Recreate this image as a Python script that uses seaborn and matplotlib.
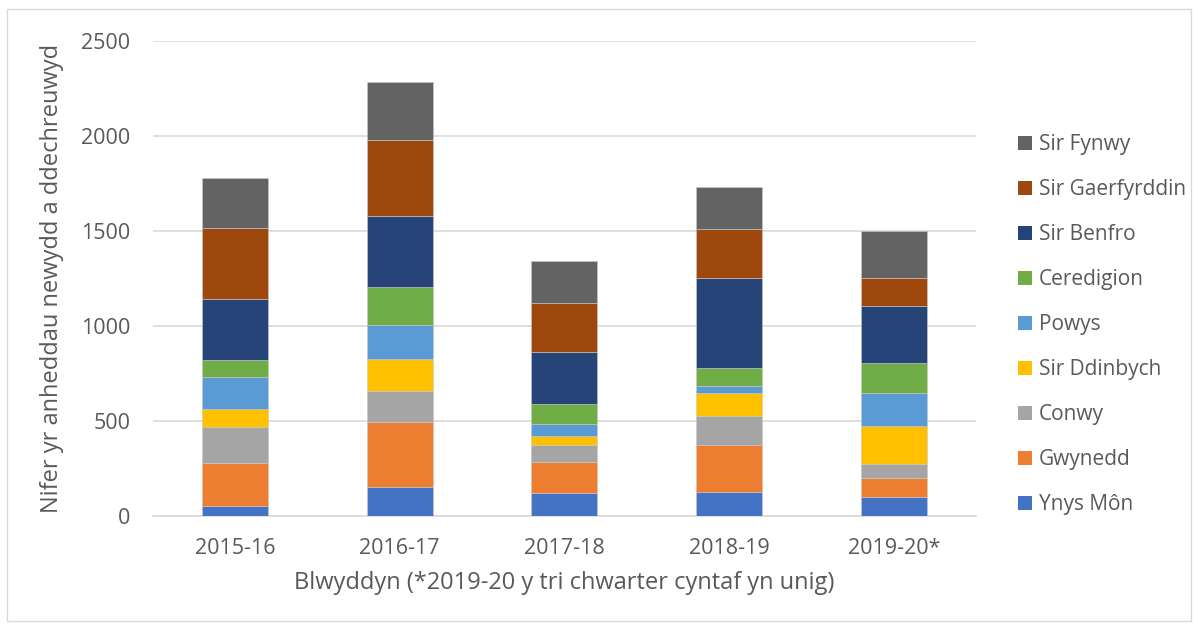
import matplotlib
matplotlib.use("Agg")
import matplotlib.pyplot as plt
import seaborn as sns
import pandas as pd
from matplotlib.patches import Rectangle, Patch

years = ["2015-16", "2016-17", "2017-18", "2018-19", "2019-20*"]
series_names = ["Ynys Môn", "Gwynedd", "Conwy", "Sir Ddinbych", "Powys",
                "Ceredigion", "Sir Benfro", "Sir Gaerfyrddin", "Sir Fynwy"]
ynys_mon = [53, 149, 118, 125, 97]
gwynedd = [226, 346, 163, 245, 100]
conwy = [189, 163, 91, 155, 74]
sir_ddinbych = [92, 165, 47, 122, 203]
powys = [168, 181, 64, 37, 170]
ceredigion = [91, 198, 106, 93, 160]
sir_benfro = [323, 374, 271, 472, 298]
sir_gaerfyrddin = [374, 400, 258, 258, 147]
sir_fynwy = [263, 308, 223, 223, 251]
colors = ["#4472C4", "#ED7D31", "#A5A5A5", "#FFC000", "#5B9BD5",
          "#70AD47", "#264478", "#9E480E", "#636363"]

values = [ynys_mon, gwynedd, conwy, sir_ddinbych, powys,
          ceredigion, sir_benfro, sir_gaerfyrddin, sir_fynwy]

sns.set_style("white")
plt.rcParams["font.family"] = ["Open Sans", "DejaVu Sans"]
txt = "#595959"

fig = plt.figure(figsize=(11.98, 6.26), dpi=100)
ax = fig.add_axes([0.1273, 0.1762, 0.6877, 0.7588])

bottom = [0] * len(years)
for name, vals, col in zip(series_names, values, colors):
    df = pd.DataFrame({"year": years, "value": vals})
    sns.barplot(data=df, x="year", y="value", ax=ax, color=col, width=0.4,
                saturation=1, bottom=bottom, edgecolor="#C8C8C8",
                linewidth=0.4, zorder=3, errorbar=None)
    bottom = [b + v for b, v in zip(bottom, vals)]

ax.set_ylim(0, 2500)
ax.set_xlim(-0.5, 4.5)
ax.set_yticks(range(0, 2501, 500))
ax.yaxis.grid(True, color="#D9D9D9", linewidth=1.2, zorder=0)
for s in ["top", "right", "left"]:
    ax.spines[s].set_visible(False)
ax.spines["bottom"].set_color("#D9D9D9")
ax.spines["bottom"].set_linewidth(1.2)
ax.tick_params(axis="both", length=0, labelsize=15.5, labelcolor=txt)
ax.tick_params(axis="x", pad=16)
ax.tick_params(axis="y", pad=16)
ax.set_xlabel("Blwyddyn (*2019-20 y tri chwarter cyntaf yn unig)", fontsize=17,
              color=txt, labelpad=9)
ax.set_ylabel("Nifer yr anheddau newydd a ddechreuwyd", fontsize=17,
              color=txt, labelpad=12)

handles = [Patch(facecolor=c, edgecolor="none") for c in colors][::-1]
labels = series_names[::-1]
leg = fig.legend(handles, labels, loc="upper left", bbox_to_anchor=(0.85, 0.786),
                 frameon=False, fontsize=15, labelspacing=1.155, handlelength=0.67,
                 handleheight=0.67, handletextpad=0.3, borderaxespad=0,
                 borderpad=0)
for t in leg.get_texts():
    t.set_color(txt)

fig.patches.append(Rectangle((0.006, 0.008), 0.988, 0.978, transform=fig.transFigure,
                             fill=False, edgecolor="#D9D9D9", linewidth=1))

fig.savefig("out.png", dpi=100)
